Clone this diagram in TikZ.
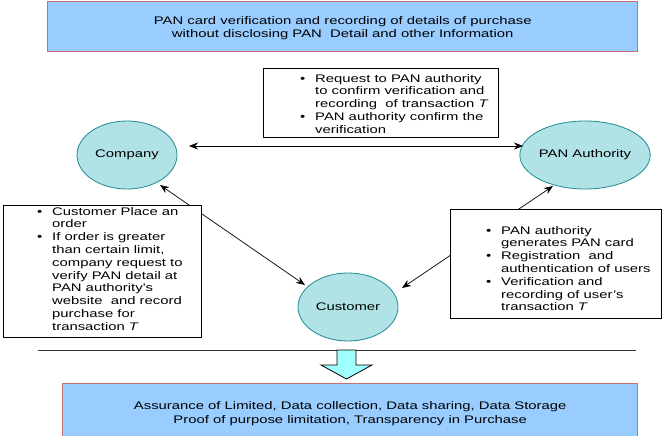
\documentclass[tikz,border=0pt]{standalone}
\usepackage{fontspec}
\setmainfont{Liberation Sans}[FakeStretch=1.35]
\usetikzlibrary{arrows.meta,shapes.geometric}
\definecolor{boxblue}{RGB}{153,204,255}
\definecolor{boxred}{RGB}{200,112,112}
\definecolor{ellfill}{RGB}{176,226,230}
\definecolor{elldraw}{RGB}{30,140,145}
\definecolor{arrowfill}{RGB}{160,255,255}
\newcommand\bitem{\makebox[15pt][l]{\textbullet}}
\newcommand\bcont{\hspace*{15pt}}
\begin{document}
\begin{tikzpicture}[x=1pt,y=-1pt,
  every node/.style={font=\fontsize{11}{13.5}\selectfont},
  bluebox/.style={draw=boxred, line width=1.4pt, fill=boxblue, align=center, anchor=north west},
  whitebox/.style={draw=black, line width=0.8pt, fill=white, anchor=north west},
  btext/.style={anchor=north west, inner sep=0pt, align=left, font=\fontsize{11}{12.8}\selectfont},
  ell/.style={ellipse, draw=elldraw, line width=0.8pt, fill=ellfill, minimum width=100pt, minimum height=68pt, inner sep=0pt},
  darr/.style={line width=0.7pt, {Stealth[length=9pt,width=7pt]}-{Stealth[length=9pt,width=7pt]}}]
\useasboundingbox (0,0) rectangle (664,436);

% title
\node[bluebox, minimum width=590pt, minimum height=50pt] (title) at (47,1)
  {\rule{0pt}{11pt}PAN card verification and recording of details of purchase\\without disclosing PAN\ \ Detail and other Information};

% ellipses
\node[ell] (company) at (127,155) {Company};
\node[ell] (pan) at (585,155) {PAN Authority};
\node[ell] (customer) at (348,307) {Customer};

% connectors
\draw[darr] ([shift={(62,-9)}]company.center) -- ([shift={(-62,-9)}]pan.center);
\draw[darr] ([shift={(33,30)}]company.center) -- ([shift={(-43,-22)}]customer.center);
\draw[darr] ([shift={(-32,31)}]pan.center) -- ([shift={(54,-19)}]customer.center);

% middle box
\node[whitebox, minimum width=235pt, minimum height=69pt] (midbox) at (263,68) {};
\node[btext] (midtxt) at (300,74)
  {\bitem Request to PAN authority\\
   \bcont to confirm verification and\\
   \bcont recording\ \ of transaction \textit{T}\\
   \bitem PAN authority confirm the\\
   \bcont verification};

% left box
\node[whitebox, minimum width=198pt, minimum height=132pt] (leftbox) at (3,205) {};
\node[btext] (lefttxt) at (37,207)
  {\bitem Customer Place an\\
   \bcont order\\
   \bitem If order is greater\\
   \bcont than certain limit,\\
   \bcont company request to\\
   \bcont verify PAN detail at\\
   \bcont PAN authority's\\
   \bcont website\ \ and record\\
   \bcont purchase for\\
   \bcont transaction \textit{T}};

% right box
\node[whitebox, minimum width=211pt, minimum height=109pt] (rightbox) at (450,209) {};
\node[btext] (righttxt) at (486,226)
  {\bitem PAN authority\\
   \bcont generates PAN card\\
   \bitem Registration\ \ and\\
   \bcont authentication of users\\
   \bitem Verification and\\
   \bcont recording of user's\\
   \bcont transaction \textit{T}};

% separator and block arrow
\coordinate (sepL) at (38,350);
\coordinate (sepR) at (636,350);
\draw[line width=0.8pt, black!80] (sepL) -- (sepR);
\draw[line width=0.8pt, fill=arrowfill] (337,350) -- (356,350) -- (356,365) -- (372,365)
  -- (346.5,379) -- (321,365) -- (337,365) -- cycle;

% bottom box
\node[bluebox, minimum width=575pt, minimum height=56pt] (result) at (62,383)
  {\rule{0pt}{12pt}Assurance of Limited, Data collection, Data sharing, Data Storage\\Proof of purpose limitation, Transparency in Purchase};
\end{tikzpicture}
\end{document}
